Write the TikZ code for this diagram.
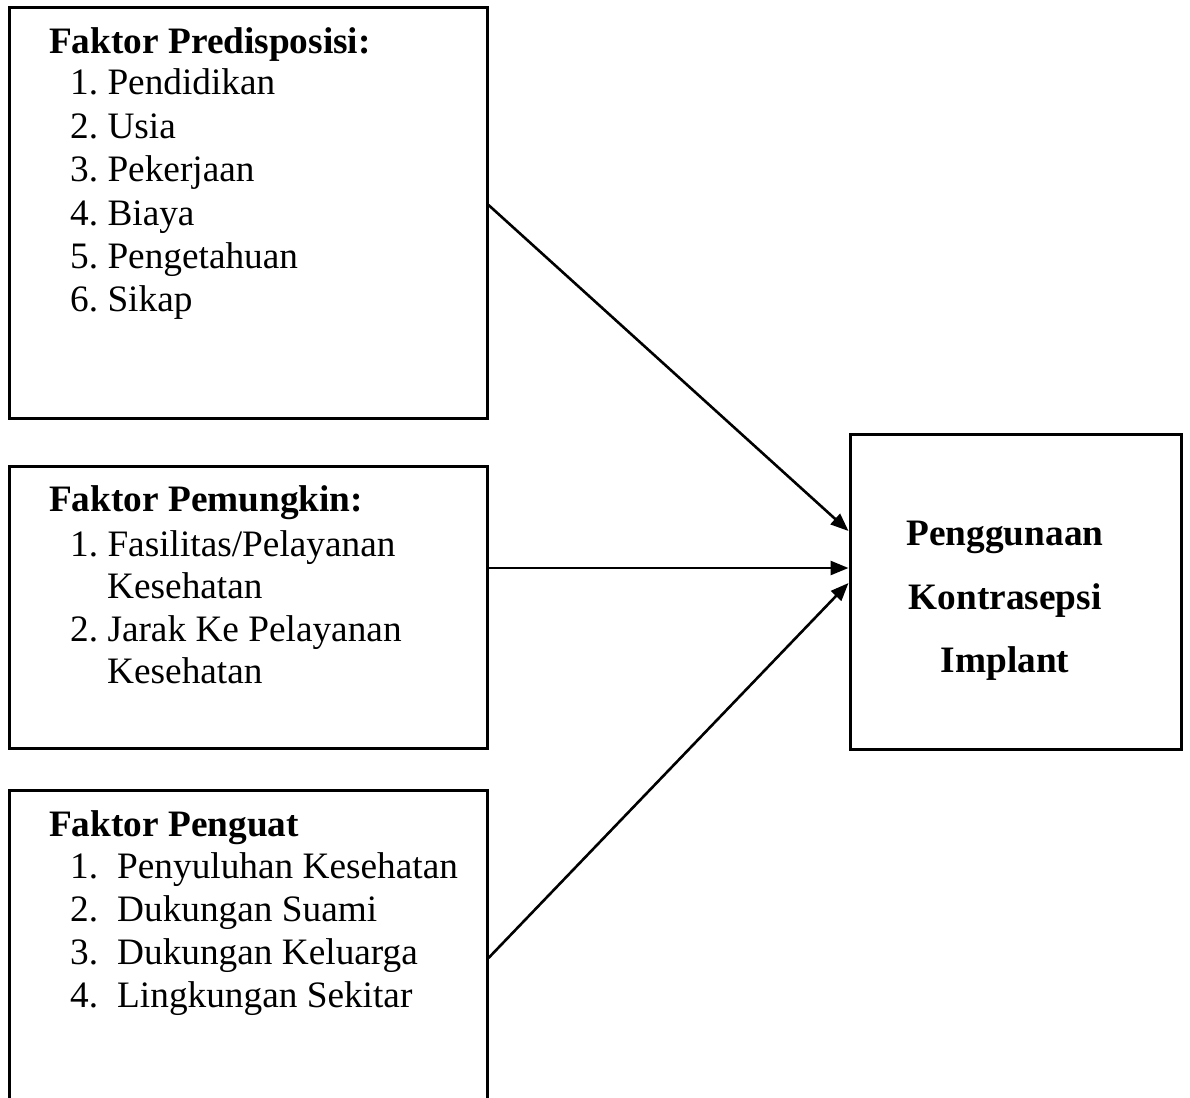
\documentclass[tikz,border=0pt]{standalone}
\usepackage{fontspec}
\setmainfont{Liberation Serif}
\usetikzlibrary{arrows.meta}
\tikzset{
  box/.style={draw=black, line width=3pt, rectangle, inner sep=0pt},
  txt/.style={anchor=base west, inner sep=0pt, font=\fontsize{37.3}{43}\selectfont\frenchspacing},
  ttl/.style={txt, font=\fontsize{37.3}{43}\selectfont\bfseries\frenchspacing},
  ctr/.style={anchor=base, inner sep=0pt, font=\fontsize{37.3}{43}\selectfont\bfseries},
  conn/.style={line width=2.6pt, -{Triangle[length=18pt,width=14pt]}}
}
\newcommand{\numtab}[1]{\makebox[47pt][l]{#1}}
\begin{document}
\begin{tikzpicture}[x=1pt,y=-1pt]
\useasboundingbox (0,0) rectangle (1190,1097);
\fill[white] (0,0) rectangle (1190,1097);
\clip (0,0) rectangle (1190,1097);
% boxes
\node[box, minimum width=478pt, minimum height=410pt] (b1) at (248,213) {};
\node[box, minimum width=478pt, minimum height=282pt] (b2) at (248,607) {};
\node[box, minimum width=478pt, minimum height=340pt] (b3) at (248,960) {};
\node[box, minimum width=331pt, minimum height=315pt] (b4) at (1015.5,591.5) {};
% box 1 text
\node[ttl] (t1) at (49,54) {Faktor Predisposisi:};
\node[txt] (t1a) at (70,95) {1. Pendidikan};
\node[txt] (t1b) at (70,138) {2. Usia};
\node[txt] (t1c) at (70,181) {3. Pekerjaan};
\node[txt] (t1d) at (70,225) {4. Biaya};
\node[txt] (t1e) at (70,268) {5. Pengetahuan};
\node[txt] (t1f) at (70,311) {6. Sikap};
% box 2 text
\node[ttl] (t2) at (49,511) {Faktor Pemungkin:};
\node[txt] (t2a) at (70,556) {1. Fasilitas/Pelayanan};
\node[txt] (t2b) at (107,598) {Kesehatan};
\node[txt] (t2c) at (70,641) {2. Jarak Ke Pelayanan};
\node[txt] (t2d) at (107,683) {Kesehatan};
% box 3 text
\node[ttl] (t3) at (49,836) {Faktor Penguat};
\node[txt] (t3a) at (70,878) {\numtab{1.}Penyuluhan Kesehatan};
\node[txt] (t3b) at (70,921) {\numtab{2.}Dukungan Suami};
\node[txt] (t3c) at (70,964) {\numtab{3.}Dukungan Keluarga};
\node[txt] (t3d) at (70,1007) {\numtab{4.}Lingkungan Sekitar};
% box 4 text
\node[ctr] (t4a) at (1005,545) {Penggunaan};
\node[ctr] (t4b) at (1005,609) {Kontrasepsi};
\node[ctr] (t4c) at (1005,672) {Implant};
% connectors
\draw[conn] ([yshift=8pt]b1.east) -- ([yshift=60.5pt]b4.west);
\draw[conn] ([yshift=39pt]b2.east) -- ([yshift=23.5pt]b4.west);
\draw[conn] ([yshift=2pt]b3.east) -- ([yshift=8.5pt]b4.west);
\end{tikzpicture}
\end{document}
